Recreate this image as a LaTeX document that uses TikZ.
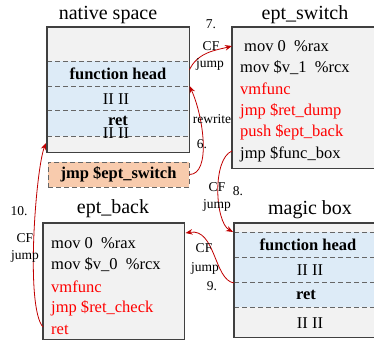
\documentclass[tikz,border=0pt]{standalone}
\usepackage{fontspec}
\setmainfont{Liberation Serif}
\usetikzlibrary{arrows.meta}
\definecolor{boxgray}{HTML}{F2F2F2}
\definecolor{rowblue}{HTML}{DDEBF7}
\definecolor{patchorange}{HTML}{F8CBAD}
\definecolor{flowred}{HTML}{C00000}
\newcommand{\titlefont}{\fontsize{20}{22}\selectfont}
\newcommand{\codefont}{\fontsize{16.5}{18}\selectfont}
\newcommand{\notefont}{\fontsize{13.5}{15}\selectfont}
\tikzset{
	membox/.style={fill=boxgray,anchor=north west,inner sep=0pt},
	boxline/.style={draw=black!75,line width=1.3pt},
	rowsep/.style={draw=black!60,line width=0.9pt,dash pattern=on 5pt off 3pt},
	cell/.style={font=\codefont\bfseries,inner sep=0pt},
	gap/.style={font=\codefont,inner sep=0pt},
	code/.style={font=\codefont,anchor=west,inner sep=0pt},
	hot/.style={code,text=red},
	title/.style={font=\titlefont,inner sep=0pt},
	note/.style={font=\notefont,inner sep=0pt},
	flow/.style={draw=flowred,line width=0.8pt,-{Stealth[length=7pt,width=5.5pt]}}
}
\begin{document}
\begin{tikzpicture}[x=1pt,y=-1pt]
\clip (0,0) rectangle (374,342);

% native space with the patched function
\node[title] (ntitle) at (108,15) {native space};
\node[membox,minimum width=142pt,minimum height=125pt] (native) at (47,27) {};
\fill[rowblue] (47.6,61) rectangle (188.4,136);
\foreach \y in {61,86,110,136}
	\draw[rowsep] (47,\y) -- (189,\y);
\draw[boxline] (native.north west) rectangle (native.south east);
\node[cell] (nhead) at (118,74) {function head};
\node[gap] (ngap1) at (116,99) {II II};
\node[cell] (nret) at (118,121) {ret};
\node[gap] (ngap2) at (116,133) {II II};
\node[cell,fill=patchorange,draw=black!60,line width=0.9pt,dash pattern=on 5pt off 3pt,
	minimum width=141pt,minimum height=25pt] (patch) at (118.5,174.5) {jmp \$ept\_switch};

% ept_switch
\node[title] (stitle) at (305,15) {ept\_switch};
\node[membox,minimum width=146pt,minimum height=141pt] (eptswitch) at (232,27) {};
\draw[boxline] (eptswitch.north west) rectangle (eptswitch.south east);
\node[code] (sw1) at (244,46) {mov 0\ \ \%rax};
\node[code] (sw2) at (240,68) {mov \$v\_1\ \ \%rcx};
\node[hot]  (sw3) at (240,89) {vmfunc};
\node[hot]  (sw4) at (240,111) {jmp \$ret\_dump};
\node[hot]  (sw5) at (240,132) {push \$ept\_back};
\node[code] (sw6) at (240,154) {jmp \$func\_box};

% ept_back
\node[title] (btitle) at (113,209) {ept\_back};
\node[membox,minimum width=141pt,minimum height=116pt] (eptback) at (43,223) {};
\draw[boxline] (eptback.north west) rectangle (eptback.south east);
\node[code] (bk1) at (51,243) {mov 0\ \ \%rax};
\node[code] (bk2) at (51,265) {mov \$v\_0\ \ \%rcx};
\node[hot]  (bk3) at (51,287) {vmfunc};
\node[hot]  (bk4) at (51,308) {jmp \$ret\_check};
\node[hot]  (bk5) at (51,330) {ret};

% magic box
\node[title] (mtitle) at (310,210) {magic box};
\node[membox,minimum width=148pt,minimum height=114pt] (magic) at (234,223) {};
\fill[rowblue] (234.6,232) rectangle (382,307);
\foreach \y in {232,257,282,307}
	\draw[rowsep] (234,\y) -- (382,\y);
\draw[boxline] (magic.north west) rectangle (magic.south east);
\node[cell] (mhead) at (308,245) {function head};
\node[gap]  (mgap1) at (310,270) {II II};
\node[cell] (mret)  at (306,295) {ret};
\node[gap]  (mgap2) at (310,323) {II II};

% control flow
\coordinate (nin) at (189.5,86);
\coordinate (nback) at (46,143);
\coordinate (min) at (233,232);
\coordinate (mout) at (234,283);
\coordinate (bin) at (185.5,233);
\draw[flow] ([yshift=4pt]native.east |- nhead) .. controls +(8,-18) and +(-15,4) .. (eptswitch.west |- sw1);
\draw[flow] (patch.east) .. controls +(22,0) and +(14,30) .. (nin);
\draw[flow] ([yshift=3pt]eptswitch.west |- sw6) .. controls +(-20,8) and +(-18,-10) .. (min);
\draw[flow] (mout) .. controls +(-20,-3) and +(30,-5) .. (bin);
\draw[flow] ([yshift=3pt]eptback.west |- bk5) .. controls +(-18,-20) and +(-10,25) .. (nback);

\node[note] (n7)  at (211,24) {7.};
\node[note] (c7)  at (211,46) {CF};
\node[note] (j7)  at (210,64) {jump};
\node[note] (r6)  at (212,119) {rewrite};
\node[note] (n6)  at (202,144) {6.};
\node[note] (c8)  at (217,187) {CF};
\node[note] (n8)  at (238,191) {8.};
\node[note] (j8)  at (217,205) {jump};
\node[note] (c9)  at (204,248) {CF};
\node[note] (j9)  at (205,268) {jump};
\node[note] (n9)  at (212,286) {9.};
\node[note] (n10) at (19,211) {10.};
\node[note] (c10) at (25,238) {CF};
\node[note] (j10) at (25,256) {jump};
\end{tikzpicture}
\end{document}
